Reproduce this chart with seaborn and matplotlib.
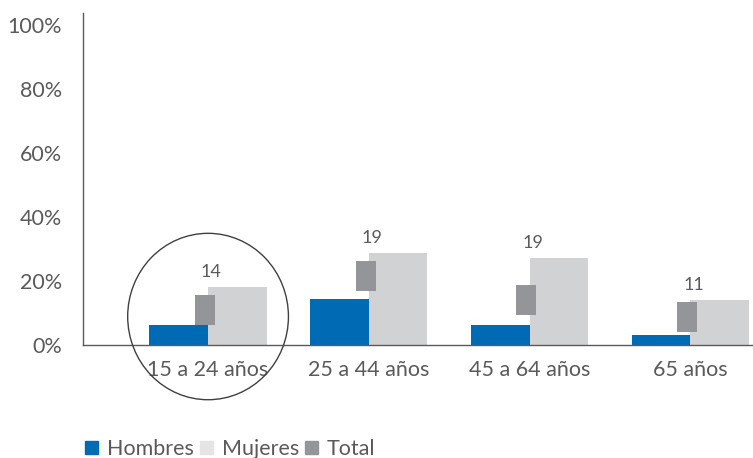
import numpy as np
import pandas as pd
import matplotlib
matplotlib.use("Agg")
import matplotlib.pyplot as plt
import seaborn as sns
from matplotlib.patches import Patch, Ellipse

# datos (%)
grupos = ["15 a 24 años", "25 a 44 años", "45 a 64 años", "65 años"]
hombres = [6.2, 14.4, 6.2, 3.1]
mujeres = [18.1, 28.7, 27.2, 14.1]
total = [10.8, 21.7, 14.2, 8.9]
etiquetas = ["14", "19", "19", "11"]
yticks = [0, 20, 40, 60, 80, 100]

AZUL = "#006bb5"
GRIS_CLARO = "#d1d2d4"
GRIS = "#939598"
TEXTO = "#5a5a5a"

sns.set_theme(style="white")
plt.rcParams["font.family"] = ["Lato", "DejaVu Sans"]

df = pd.DataFrame({
    "grupo": grupos * 2,
    "valor": hombres + mujeres,
    "serie": ["Hombres"] * 4 + ["Mujeres"] * 4,
})

fig = plt.figure(figsize=(7.53, 4.58), dpi=100)
ax = fig.add_axes([83 / 753, 113 / 458, 1 - 83 / 753, 332 / 458])

sns.barplot(data=df, x="grupo", y="valor", hue="serie",
            palette=[AZUL, GRIS_CLARO], width=0.73, gap=0,
            saturation=1, linewidth=0, legend=False, ax=ax)

# marcador rectangular para Total
rect = [(-0.36, -0.5), (0.36, -0.5), (0.36, 0.5), (-0.36, 0.5), (-0.36, -0.5)]
sns.scatterplot(x=np.arange(len(grupos)) - 0.02, y=total, marker=rect,
                s=440, color=GRIS, linewidth=0, zorder=5, ax=ax)

for i, (m, lab) in enumerate(zip(mujeres, etiquetas)):
    ax.annotate(lab, (i + 0.02, m), xytext=(0, 5), textcoords="offset points",
                ha="center", va="bottom", fontsize=13, color=TEXTO)

# circulo que resalta el primer grupo
ax.add_patch(Ellipse((0, 8.9), width=1.0, height=52, fill=False,
                     edgecolor="#404040", lw=1, clip_on=False, zorder=6))

ax.set_xlim(-0.778, 3.39)
ax.set_ylim(0, 103.75)
ax.set_yticks(yticks)
ax.set_yticklabels([f"{v}%" for v in yticks])
ax.set_xlabel("")
ax.set_ylabel("")
ax.tick_params(axis="both", length=0, labelsize=15.5, labelcolor=TEXTO)
ax.tick_params(axis="y", pad=15)
ax.tick_params(axis="x", pad=11)

for s in ["top", "right"]:
    ax.spines[s].set_visible(False)
for s in ["left", "bottom"]:
    ax.spines[s].set_color("#5a5a5a")
    ax.spines[s].set_linewidth(1.0)

handles = [Patch(color=AZUL, label="Hombres"),
           Patch(color="#e4e5e6", label="Mujeres"),
           Patch(color=GRIS, label="Total")]
fig.legend(handles=handles, loc="lower left", bbox_to_anchor=(66 / 753, -0.045),
           ncol=3, frameon=False, fontsize=15.5, handlelength=0.6,
           handleheight=0.6, handletextpad=0.4, columnspacing=0.3,
           labelcolor=TEXTO)

fig.savefig("out.png", dpi=100)
